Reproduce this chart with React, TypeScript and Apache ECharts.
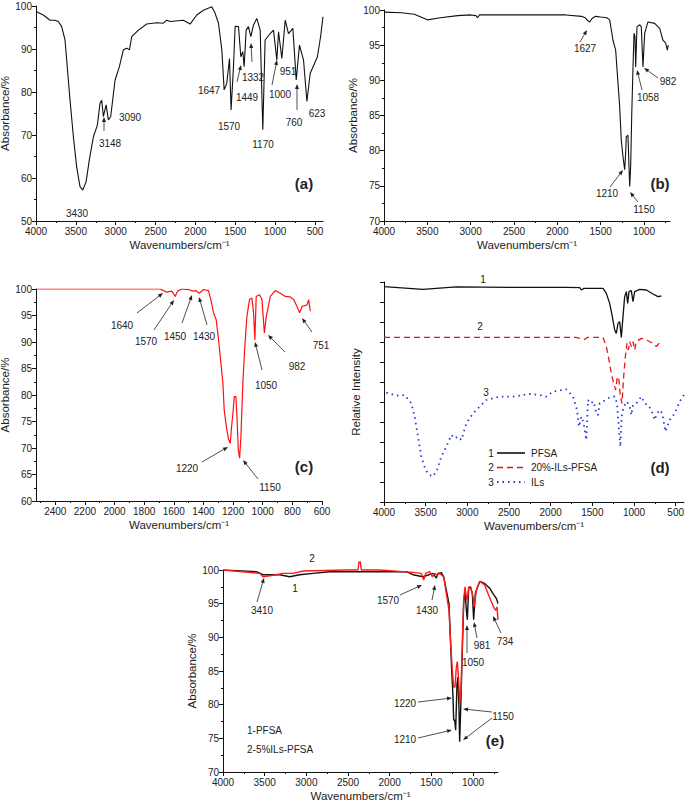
import React, { useEffect, useRef } from "react";
import * as echarts from "echarts";

// ---------- data ----------
const wnA = [4000,3908,3824,3761,3720,3678,3636,3615,3573,3531,3490,3448,3414,3372,3331,3280,3230,3197,3176,3155,3121,3092,3063,3008,2954,2904,2862,2828,2799,2715,2611,2485,2402,2360,2318,2151,2067,1983,1900,1795,1753,1711,1669,1640,1607,1573,1553,1523,1502,1460,1431,1406,1389,1364,1335,1305,1272,1230,1188,1155,1126,1063,1021,979,958,916,874,833,778,736,695,644,602,561,470,430,400];
const absA = [98.7,97.9,96.7,96.7,96.4,95.2,92.1,87.4,78.1,69.6,62.6,58,57.2,59.1,64.2,69.6,72.3,77.4,78.1,74.3,77,73.5,74.3,82.8,85.9,89.8,90.2,89.8,92.9,94.4,95.8,96.1,96,96.7,96.4,96.7,95.8,97.9,99,99.8,98.3,96,89.8,80.5,82,87.8,75.8,85.9,95.3,95.2,88.2,89.4,85.9,94.4,95.2,92.9,95.6,97.1,94.4,71.2,92.1,93.6,94.4,87.4,94,87.8,96.7,93.6,94.8,82.8,90.9,87.4,77.8,84.3,88.2,92.9,97.5];

const wnB = [4000,3800,3650,3500,3350,3150,3000,2940,2920,2900,2800,2500,2200,1900,1720,1680,1650,1627,1600,1560,1500,1430,1396,1358,1327,1300,1281,1262,1242,1223,1212,1204,1185,1173,1165,1154,1142,1127,1115,1104,1096,1081,1050,1031,1012,992,954,877,819,781,750,731,720];
const absB = [99.7,99.6,99.4,98.6,98.9,99.2,99.3,99.2,98.9,99.3,99.3,99.3,99.3,99.3,99.1,98.9,98.5,98.3,98.8,99.1,99,98.9,98.6,95.7,94.3,89.6,86.3,81.5,79.1,77.3,79.6,82,82.2,77.7,74.9,77.7,84.8,91.9,96.7,96.2,91.9,97.6,97.9,97.6,91.9,96.7,98.3,98.1,97.4,95.7,95.3,94.3,95];

const wnC = [2530,1692,1670,1647,1613,1591,1575,1546,1501,1471,1449,1429,1399,1366,1350,1332,1314,1298,1280,1269,1260,1246,1230,1219,1212,1201,1192,1181,1174,1165,1156,1147,1134,1122,1107,1089,1073,1062,1053,1044,1021,1005,989,976,949,915,881,848,814,791,769,751,735,701,690,679];
const absC = [100,100,99.7,99.4,99.6,98.6,99.6,100,99.9,99.6,99.7,99.2,99.9,99.7,98,95.5,94.2,90.4,85.4,82.3,77.2,74.1,71.6,70.9,73.5,76.6,79.7,79.7,76,69.7,68.1,72.2,82.3,88.6,94.8,98,98.3,95.5,90.4,98.6,98.9,98,91.7,94.8,98.6,99.7,99.2,98.6,98.5,98,96.7,95.5,96.7,97,98,95.8];

const wnD1 = [4000,3532,3132,2500,1800,1652,1632,1600,1372,1332,1292,1260,1232,1212,1192,1172,1152,1132,1112,1092,1076,1060,1032,1012,992,932,852,772,712,672];
const intD1 = [107.7,106.3,107.6,107.3,107.3,107.2,106,106.8,106.8,104.3,99.3,92.7,86,84.3,89.3,90.2,82.3,92.7,102.7,105.2,99.3,105.2,105.7,100.2,105.2,106.3,106,104,102.7,103];
const wnD2 = [4000,3000,2000,1700,1592,1560,1372,1332,1300,1272,1244,1220,1200,1180,1164,1144,1124,1104,1084,1068,1052,1032,1012,992,972,912,852,772,732,700,672];
const intD2 = [82.3,82.3,82.3,82.3,81.3,82.3,82.3,77.7,71,64.3,59.3,56,62.7,61,52.7,49.3,62.7,72.7,79.3,76,80.2,77.7,80.2,76,80.2,81.8,81,79.3,77.7,79.3,77.7];
const wnD3 = [3972,3852,3752,3672,3632,3592,3552,3500,3452,3412,3364,3312,3252,3192,3152,3112,3072,3012,2932,2852,2772,2612,2452,2252,2132,2052,1972,1812,1732,1684,1660,1632,1604,1572,1552,1524,1484,1452,1432,1412,1372,1312,1272,1232,1204,1180,1164,1148,1124,1084,1052,1032,1012,972,912,872,832,792,752,724,692,660,624,572,512,452,400];
const intD3 = [54.7,53.2,53.5,49.3,42.7,32.7,22.7,16,13.5,12.7,16,22.7,27.7,33.5,31.8,32.7,31,39.3,44.3,47.7,51,52.7,52.7,54,53.5,52.7,55.2,56.3,52.7,46,37.7,42.7,39.3,31,51,49.3,50.2,44.3,43.5,49.3,50.2,51.8,52.7,52.7,49.3,36,27.7,42.7,47.7,50.2,47.7,43.5,48.5,49.3,52.7,49.3,48.5,46,41,44.3,46,44.3,35.2,41,44.3,50.2,53.5];

const wnE1 = [4000,3600,3520,3320,3200,3080,2920,2720,1800,1720,1600,1480,1440,1420,1380,1352,1320,1288,1272,1256,1240,1232,1220,1208,1192,1180,1168,1160,1148,1128,1112,1096,1080,1068,1052,1032,1008,992,972,920,860,800,760,720,700];
const absE1 = [100,99.75,99.3,99.3,99,99.3,99.5,99.75,99.75,99.3,99,99.5,98.8,99.5,99.6,99,97,95,90.1,85.1,81.2,77.7,77.7,76.2,83.1,84.1,79.2,74.5,79.2,88.1,95,97,94.1,92.6,97.3,97.5,96.5,92.6,96.5,98.3,98,97.3,96.5,95.8,95];
const wnE2 = [4000,3560,3520,3360,3280,3160,3040,2520,2380,2368,2352,2340,2120,1720,1620,1592,1568,1520,1488,1460,1432,1400,1352,1320,1288,1268,1248,1232,1216,1200,1188,1172,1160,1144,1128,1112,1096,1080,1068,1052,1028,1000,984,960,920,860,820,780,752,728,712,700];
const absE2 = [100,99.5,99,99.3,99.5,99.5,99.85,100,100,101.2,101.2,100,100,99.65,99.5,98.5,99.5,99.75,99,99.5,99.25,99.5,99,96.5,94,89.1,85.1,82.6,82.6,85.6,86.4,83.6,80.2,82.2,89.1,95.5,97.5,96,95.5,97.5,97.5,96,94.5,97,98.3,97.8,96.5,95.3,94.5,94,94.5,92.6];

// tick values
const ticks4000to500 = [4000,3500,3000,2500,2000,1500,1000,500];
const minor4000to500 = [3750,3250,2750,2250,1750,1250,750];
const ticks4000to1000 = [4000,3500,3000,2500,2000,1500,1000];
const minor4000to1000 = [3750,3250,2750,2250,1750,1250,750];
const ticksC = [2400,2200,2000,1800,1600,1400,1200,1000,800,600];
const minorC = [2500,2300,2100,1900,1700,1500,1300,1100,900,700];

// ---------- layout ----------
const FONT = '"Liberation Sans", Arial, sans-serif';
const XNAME = "Wavenumbers/cm\u207B\u00B9";

const grids = [
  { left: 36, top: 6, width: 287, height: 215 },
  { left: 384, top: 10, width: 286, height: 211 },
  { left: 36, top: 289, width: 286, height: 212 },
  { left: 384, top: 282, width: 300, height: 220 },
  { left: 223, top: 570, width: 275, height: 202 },
];

const annotations: [string, number, number][] = [
  ["3430", 77, 213], ["3148", 110, 143], ["3090", 130, 117], ["1647", 209, 90], ["1570", 229, 126],
  ["1449", 247, 97], ["1332", 253, 77], ["1170", 263, 144], ["1000", 280, 94], ["951", 288, 71],
  ["760", 294, 122], ["623", 317, 113],
  ["1627", 585, 48], ["982", 668, 81], ["1058", 648, 97], ["1210", 607, 193], ["1150", 644, 209],
  ["1640", 122, 325], ["1570", 146, 341], ["1450", 175, 336], ["1430", 204, 336], ["1050", 266, 385],
  ["982", 297, 366], ["751", 321, 345], ["1220", 187, 468], ["1150", 270, 487],
  ["1", 483, 279], ["2", 480, 326], ["3", 486, 392],
  ["2", 312, 558], ["1", 295, 588], ["3410", 262, 610], ["1570", 388, 600], ["1430", 427, 610],
  ["981", 482, 645], ["734", 505, 641], ["1050", 473, 662], ["1220", 405, 703], ["1210", 405, 739],
  ["1150", 503, 716],
];
const arrows: [number, number, number, number][] = [
  [104, 131, 104, 117], [237, 82, 241, 65], [252, 62, 251, 43], [272, 85, 277, 60], [297, 110, 297, 84],
  [580, 42, 587, 30], [658, 78, 644, 68], [642, 90, 637, 70], [610, 187, 623, 170], [638, 202, 630, 192],
  [137, 313, 163, 293], [154, 330, 174, 300], [182, 323, 192, 295], [207, 325, 199, 297], [262, 370, 255, 342],
  [285, 352, 268, 335], [312, 332, 302, 318], [202, 462, 228, 447], [258, 479, 243, 460],
  [257, 602, 264, 578], [400, 595, 422, 585], [432, 600, 435, 585], [477, 638, 474, 622], [501, 633, 493, 616],
  [467, 653, 467, 625], [418, 702, 452, 698], [418, 738, 452, 730], [492, 712, 463, 709], [492, 718, 463, 740],
];
const panelLabels: [string, number, number][] = [
  ["(a)", 304, 183], ["(b)", 660, 183], ["(c)", 304, 466], ["(d)", 660, 467], ["(e)", 495, 740],
];

function zip(xs: number[], ys: number[]) {
  return xs.map((x, i) => [x, ys[i]]);
}

function arrowShape(x1: number, y1: number, x2: number, y2: number) {
  const dx = x2 - x1, dy = y2 - y1;
  const len = Math.sqrt(dx * dx + dy * dy) || 1;
  const ux = dx / len, uy = dy / len;
  const nx = -uy, ny = ux;
  const hl = 5, hw = 2;
  const bx = x2 - ux * hl, by = y2 - uy * hl;
  return [
    { type: "line", shape: { x1, y1, x2: bx, y2: by }, style: { stroke: "#222", lineWidth: 0.8 }, z: 100 },
    {
      type: "polygon",
      shape: { points: [[x2, y2], [bx + nx * hw, by + ny * hw], [bx - nx * hw, by - ny * hw]] },
      style: { fill: "#222" },
      z: 100,
    },
  ];
}

function textEl(t: string, x: number, y: number, size = 10, weight = "normal", align = "center") {
  return {
    type: "text",
    x,
    y,
    z: 100,
    style: { text: t, fill: "#222", font: `${weight} ${size}px ${FONT}`, align, verticalAlign: "middle" },
  };
}

const plain = (v: number) => String(v);

function xAxes(gi: number, min: number, max: number, majors: number[], minors: number[]) {
  return [
    {
      type: "value", gridIndex: gi, min, max, inverse: true, position: "bottom",
      axisLine: { show: true, onZero: false, lineStyle: { color: "#111", width: 1 } },
      axisTick: { show: true, customValues: majors, length: 4, lineStyle: { color: "#111" } },
      axisLabel: { customValues: majors, fontSize: 10, color: "#222", margin: 5, fontFamily: FONT, formatter: plain },
      splitLine: { show: false },
      name: XNAME, nameLocation: "middle", nameGap: 18,
      nameTextStyle: { fontSize: 11.5, color: "#222", fontFamily: FONT },
    },
    {
      type: "value", gridIndex: gi, min, max, inverse: true, position: "bottom",
      axisLine: { show: false, onZero: false },
      axisTick: { show: true, customValues: minors, length: 2, lineStyle: { color: "#111" } },
      axisLabel: { show: false },
      splitLine: { show: false },
    },
  ];
}

function yAxis(gi: number, min: number, max: number, interval: number, name: string, showLabels = true, nameGap = 22) {
  return {
    type: "value", gridIndex: gi, min, max, interval,
    axisLine: { show: true, onZero: false, lineStyle: { color: "#111", width: 1 } },
    axisTick: { show: true, length: 4, lineStyle: { color: "#111" } },
    minorTick: { show: showLabels, splitNumber: 2, length: 2, lineStyle: { color: "#111" } },
    axisLabel: { show: showLabels, fontSize: 10, color: "#222", margin: 4, fontFamily: FONT, formatter: plain },
    splitLine: { show: false },
    name, nameLocation: "middle", nameGap, nameRotate: 90,
    nameTextStyle: { fontSize: 11.5, color: "#222", fontFamily: FONT },
  };
}

function line(gi: number, data: number[][], color: string, width = 1.1, type: any = "solid", clip = true) {
  return {
    type: "line", xAxisIndex: gi * 2, yAxisIndex: gi, data, showSymbol: false, symbol: "none",
    lineStyle: { color, width, type }, silent: true, clip, z: 2,
  };
}

export default function App() {
  const ref = useRef<HTMLDivElement>(null);
  useEffect(() => {
    if (!ref.current) return;
    const chart = echarts.init(ref.current, null, { renderer: "svg" });
    const graphic: any[] = [];
    annotations.forEach(([t, x, y]) => graphic.push(textEl(t, x, y)));
    arrows.forEach(([a, b, c, d]) => graphic.push(...arrowShape(a, b, c, d)));
    panelLabels.forEach(([t, x, y]) => graphic.push(textEl(t, x, y, 15, "bold")));
    graphic.push(textEl("1-PFSA", 247, 730, 10, "normal", "left"));
    graphic.push(textEl("2-5%ILs-PFSA", 247, 749, 10, "normal", "left"));
    // legend of (d)
    const legendRows: [string, string, string, any][] = [
      ["1", "PFSA", "#111", null],
      ["2", "20%-ILs-PFSA", "#e8141b", [6, 4]],
      ["3", "ILs", "#2a35d8", [1.5, 4]],
    ];
    legendRows.forEach(([n, label, color, dash], i) => {
      const y = 453 + i * 14.5;
      graphic.push(textEl(n, 491, y));
      graphic.push({
        type: "line", z: 100, shape: { x1: 497, y1: y, x2: 525, y2: y },
        style: { stroke: color, lineWidth: i === 2 ? 1.8 : 1.6, lineDash: dash || undefined },
      });
      graphic.push(textEl(label, 531, y, 10, "normal", "left"));
    });

    chart.setOption({
      animation: false,
      backgroundColor: "#fff",
      textStyle: { fontFamily: FONT },
      grid: grids.map((g) => ({ ...g, containLabel: false, outerBoundsMode: "none" })),
      xAxis: [
        ...xAxes(0, 400, 4000, ticks4000to500, minor4000to500),
        ...xAxes(1, 700, 4000, ticks4000to1000, minor4000to1000),
        ...xAxes(2, 600, 2530, ticksC, minorC),
        ...xAxes(3, 400, 4000, ticks4000to500, minor4000to500),
        ...xAxes(4, 700, 4000, ticks4000to1000, minor4000to1000),
      ],
      yAxis: [
        yAxis(0, 50, 100, 10, "Absorbance/%", true, 22),
        yAxis(1, 70, 100, 5, "Absorbance/%", true, 22),
        yAxis(2, 60, 100, 5, "Absorbance/%", true, 22),
        yAxis(3, 0, 110, 10, "Relative Intensity", false, 22),
        yAxis(4, 70, 100, 5, "Absorbance/%", true, 22),
      ],
      series: [
        line(0, zip(wnA, absA), "#111", 1.1),
        line(1, zip(wnB, absB), "#111", 1.1),
        line(2, zip(wnC, absC), "#ff1010", 1.2),
        line(3, zip(wnD1, intD1), "#111", 1.3),
        line(3, zip(wnD2, intD2), "#e8141b", 1.3, [6, 4]),
        line(3, zip(wnD3, intD3), "#2a35d8", 1.8, [1.5, 4]),
        line(4, zip(wnE1, absE1), "#111", 1.4),
        line(4, zip(wnE2, absE2), "#ff1a1a", 1.4, "solid", false),
      ],
      graphic,
    });
    return () => chart.dispose();
  }, []);
  return (
    <div
      ref={ref}
      style={{ position: "fixed", left: 0, top: 0, width: 685, height: 806, background: "#fff" }}
    />
  );
}
